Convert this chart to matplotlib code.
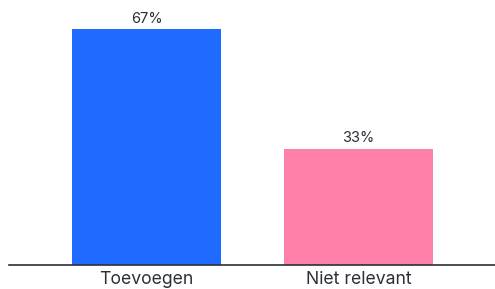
import matplotlib
matplotlib.use("Agg")
import matplotlib.pyplot as plt

### data
categories = ["Toevoegen", "Niet relevant"]
values = [67, 33]
labels = ["67%", "33%"]
colors = ["#1f6bff", "#ff80a8"]

plt.rcParams['font.family'] = ['Inter', 'DejaVu Sans']

fig = plt.figure(figsize=(4.95, 2.89), dpi=100)
ax = fig.add_axes([9/495, 24/289, 486/495, 265/289])

x = list(range(len(categories)))
bars = ax.bar(x, values, width=0.70, color=colors)
for b, lab in zip(bars, labels):
    ax.text(b.get_x() + b.get_width()/2, b.get_height() + 1.0, lab,
            ha="center", va="bottom", fontsize=10.5, color="#2b2f38")

ax.set_xlim(-0.649, 1.644)
ax.set_ylim(0, 75.3)
ax.set_xticks(x)
ax.set_xticklabels(categories, fontsize=12.7, color="#2b2f38")
ax.tick_params(axis="x", length=0, pad=4)
ax.set_yticks([])
for s in ["top", "right", "left"]:
    ax.spines[s].set_visible(False)
ax.spines["bottom"].set_color("#2b2f38")
ax.spines["bottom"].set_linewidth(1.2)

fig.savefig("out.png", dpi=100)
